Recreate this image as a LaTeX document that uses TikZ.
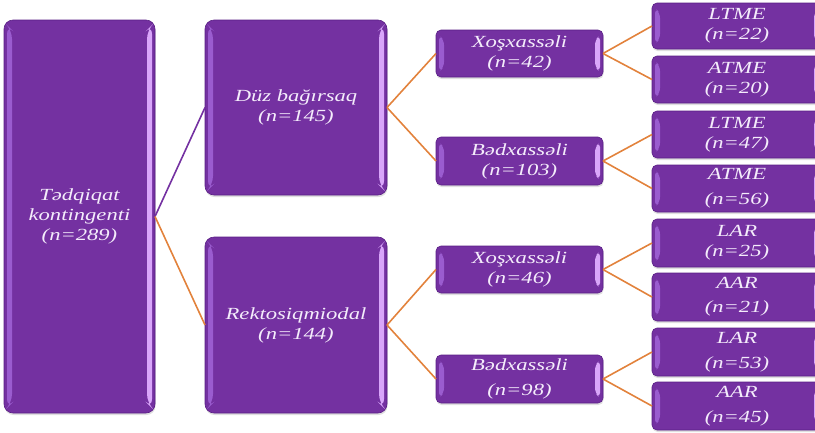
\documentclass[tikz,border=0pt]{standalone}
\usepackage{fontspec}
\newfontfamily\boxfont[FakeStretch=1.33]{Liberation Serif}
\usetikzlibrary{shadows,calc}
\definecolor{boxpurple}{HTML}{7431A1}
\definecolor{boxedge}{HTML}{5A1F85}
\definecolor{bevleft}{HTML}{9A5CCF}
\definecolor{bevright}{HTML}{D9A6FA}
\definecolor{txtcol}{HTML}{F4ECFB}
\definecolor{linkorange}{HTML}{E2823C}
\definecolor{linkpurple}{HTML}{7431A1}
\tikzset{
  pbox/.style={draw=boxedge, line width=0.6pt, fill=boxpurple, rounded corners=#1,
    anchor=north west, inner sep=0pt, outer sep=0pt, align=center,
    text=txtcol, font=\boxfont\itshape\fontsize{17}{20}\selectfont,
    drop shadow={opacity=0.25, shadow xshift=0.5pt, shadow yshift=-2pt},
    path picture={
      \fill[bevleft] ([xshift=3pt,yshift=-5pt]path picture bounding box.north west)
        -- ([xshift=8pt,yshift=-10pt]path picture bounding box.north west)
        -- ([xshift=8pt,yshift=10pt]path picture bounding box.south west)
        -- ([xshift=3pt,yshift=5pt]path picture bounding box.south west) -- cycle;
      \fill[bevright] ([xshift=-3pt,yshift=-5pt]path picture bounding box.north east)
        -- ([xshift=-8pt,yshift=-10pt]path picture bounding box.north east)
        -- ([xshift=-8pt,yshift=10pt]path picture bounding box.south east)
        -- ([xshift=-3pt,yshift=5pt]path picture bounding box.south east) -- cycle;
    }},
  pbox/.default=5pt,
  link/.style={draw=linkorange, line width=1.6pt},
  linkp/.style={draw=linkpurple, line width=1.6pt}
}
\begin{document}
\begin{tikzpicture}[x=1pt,y=-1pt]
\useasboundingbox (0,0) rectangle (815,432);
\clip (0,0) rectangle (815,432);
% root
\node[pbox=9pt, minimum width=151pt, minimum height=393pt] (root) at (4,20) {Tədqiqat\\kontingenti\\(n=289)};
% level 1
\node[pbox=9pt, minimum width=182pt, minimum height=175pt] (duz) at (205,20) {Düz bağırsaq\\(n=145)};
\node[pbox=9pt, minimum width=182pt, minimum height=176pt] (rek) at (205,237) {Rektosiqmiodal\\(n=144)};
% level 2
\node[pbox, minimum width=167pt, minimum height=47pt] (x1) at (436,30) {Xoşxassəli\\(n=42)};
\node[pbox, minimum width=167pt, minimum height=48pt] (b1) at (436,137) {Bədxassəli\\(n=103)};
\node[pbox, minimum width=167pt, minimum height=47pt] (x2) at (436,246) {Xoşxassəli\\(n=46)};
\node[pbox, minimum width=167pt, minimum height=48pt] (b2) at (436,355) {Bədxassəli\\[5pt](n=98)};
% level 3
\node[pbox, minimum width=170pt, minimum height=46pt] (l1) at (652,3) {LTME\\(n=22)};
\node[pbox, minimum width=170pt, minimum height=47pt] (l2) at (652,56) {ATME\\(n=20)};
\node[pbox, minimum width=170pt, minimum height=47pt] (l3) at (652,111) {LTME\\(n=47)};
\node[pbox, minimum width=170pt, minimum height=47pt] (l4) at (652,165) {ATME\\[5pt](n=56)};
\node[pbox, minimum width=170pt, minimum height=48pt] (l5) at (652,219) {LAR\\(n=25)};
\node[pbox, minimum width=170pt, minimum height=48pt] (l6) at (652,273) {AAR\\[4pt](n=21)};
\node[pbox, minimum width=170pt, minimum height=48pt] (l7) at (652,328) {LAR\\[5pt](n=53)};
\node[pbox, minimum width=170pt, minimum height=48pt] (l8) at (652,382) {AAR\\[5pt](n=45)};
% connectors
\draw[linkp] (root.east) -- (duz.west);
\draw[link] (root.east) -- (rek.west);
\draw[link] (duz.east) -- (x1.west);
\draw[link] (duz.east) -- (b1.west);
\draw[link] (rek.east) -- (x2.west);
\draw[link] (rek.east) -- (b2.west);
\draw[link] (x1.east) -- (l1.west);
\draw[link] (x1.east) -- (l2.west);
\draw[link] (b1.east) -- (l3.west);
\draw[link] (b1.east) -- (l4.west);
\draw[link] (x2.east) -- (l5.west);
\draw[link] (x2.east) -- (l6.west);
\draw[link] (b2.east) -- (l7.west);
\draw[link] (b2.east) -- (l8.west);
\end{tikzpicture}
\end{document}
